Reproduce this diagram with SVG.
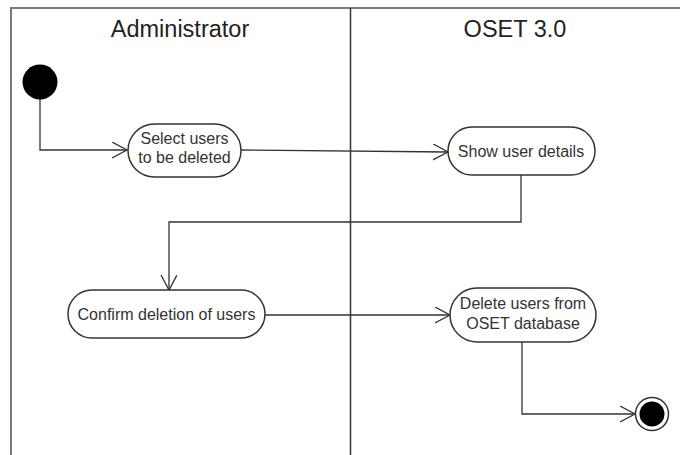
<svg xmlns="http://www.w3.org/2000/svg" width="680" height="455" viewBox="0 0 680 455">
<style>
.lane{fill:none;stroke:#7a7a7a;stroke-width:2}
.div{fill:none;stroke:#333;stroke-width:1.5}
.hdr{font-family:"Liberation Sans",Arial,sans-serif;font-size:23.5px;fill:#222;text-anchor:middle}
.act{fill:#fff;stroke:#333;stroke-width:1.5}
.lbl{font-family:"Liberation Sans",Arial,sans-serif;font-size:16px;fill:#333;text-anchor:middle}
.edge{fill:none;stroke:#333;stroke-width:1.3;marker-end:url(#open)}
</style>
<defs>
<marker id="open" markerWidth="20" markerHeight="20" refX="15" refY="8" orient="auto" markerUnits="userSpaceOnUse">
<path d="M0,0 L15,8 L0,16" fill="none" stroke="#333" stroke-width="1.3"/>
</marker>
</defs>
<rect width="680" height="455" fill="#fff"/>
<g id="swimlanes">
<path class="lane" d="M11,455 V8 H680"/>
<line class="div" x1="350.5" y1="8" x2="350.5" y2="455"/>
<text class="hdr" x="180" y="37">Administrator</text>
<text class="hdr" x="515" y="37">OSET 3.0</text>
</g>
<g id="connectors">
<path class="edge" d="M40,99 V150 H127"/>
<path class="edge" d="M241,150 L448,152"/>
<path class="edge" d="M521,175 V222 H169 V290"/>
<path class="edge" d="M265,315 H450"/>
<path class="edge" d="M522,342 V414 H635"/>
</g>
<g id="start">
<circle cx="40" cy="82" r="17.5" fill="#000"/>
</g>
<g id="select">
<rect class="act" x="128" y="124" width="113" height="53" rx="26.5"/>
<text class="lbl" x="184.5" y="144">Select users</text>
<text class="lbl" x="184.5" y="163">to be deleted</text>
</g>
<g id="show">
<rect class="act" x="448" y="127" width="147" height="48" rx="24"/>
<text class="lbl" x="521" y="157">Show user details</text>
</g>
<g id="confirm">
<rect class="act" x="68" y="290" width="197" height="48" rx="24"/>
<text class="lbl" x="166.5" y="320">Confirm deletion of users</text>
</g>
<g id="delete">
<rect class="act" x="450" y="288" width="146" height="54" rx="27"/>
<text class="lbl" x="523" y="309">Delete users from</text>
<text class="lbl" x="523" y="329">OSET database</text>
</g>
<g id="end">
<circle cx="652" cy="414" r="16.5" fill="#fff" stroke="#333" stroke-width="1.5"/>
<circle cx="652" cy="414" r="12.5" fill="#000"/>
</g>
</svg>
